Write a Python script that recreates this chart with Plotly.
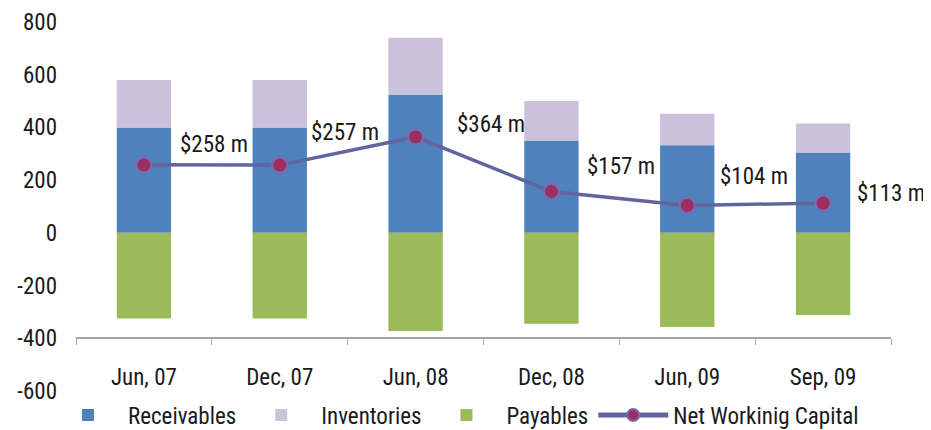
import plotly.graph_objects as go

categories = ["Jun, 07", "Dec, 07", "Jun, 08", "Dec, 08", "Jun, 09", "Sep, 09"]
receivables = [400, 400, 525, 350, 332, 305]
inventories = [180, 180, 215, 150, 120, 110]
payables = [-325, -325, -372, -345, -357, -312]
net_working_capital = [258, 257, 364, 157, 104, 113]
nwc_labels = ["$258 m", "$257 m", "$364 m", "$157 m", "$104 m", "$113 m"]
y_ticks = [-600, -400, -200, 0, 200, 400, 600, 800]
y_tick_labels = ["-600", "-400", "-200", "0", "200", "400", "600", "800"]

FONT = "Roboto Condensed, DejaVu Sans Condensed, Liberation Sans Narrow, sans-serif"
TXT = "#1a1a1a"

# the page adds an 8px body margin, so the figure is 8px smaller than the window
W, H = 923, 422

fig = go.Figure()
fig.add_trace(go.Bar(x=categories, y=receivables, name="Receivables",
                     marker=dict(color="#4F81BD", line=dict(width=0))))
fig.add_trace(go.Bar(x=categories, y=inventories, name="Inventories",
                     marker=dict(color="#CCC1DA", line=dict(width=0))))
fig.add_trace(go.Bar(x=categories, y=payables, name="Payables",
                     marker=dict(color="#9BBB59", line=dict(width=0))))
fig.add_trace(go.Scatter(x=categories, y=net_working_capital, name="Net Workinig Capital",
                         mode="lines+markers",
                         line=dict(color="#6264A0", width=3.5),
                         marker=dict(color="#9B2F62", size=15,
                                     line=dict(color="#7D6AAE", width=2))))

label_xshift = [70, 65, 75, 70, 67, 68]
label_yshift = [20, 33, 12, 25, 29, 10]
for c, v, t, xs, ys in zip(categories, net_working_capital, nwc_labels, label_xshift, label_yshift):
    fig.add_annotation(x=c, y=v, text=t, showarrow=False, xshift=xs, yshift=ys,
                       font=dict(family=FONT, size=23, color=TXT))

fig.update_layout(
    width=W, height=H,
    barmode="relative",
    bargap=0.6,
    plot_bgcolor="white", paper_bgcolor="white",
    margin=dict(l=68, r=40, t=14, b=39, autoexpand=False),
    font=dict(family=FONT, size=22, color=TXT),
    showlegend=True,
    legend=dict(orientation="h", xref="container", yref="container",
                x=40 / W, xanchor="left", y=15 / H, yanchor="middle",
                font=dict(family=FONT, size=23, color=TXT),
                traceorder="normal", itemwidth=70, itemsizing="constant",
                bgcolor="rgba(0,0,0,0)"),
    xaxis=dict(anchor="free", position=(-400 - (-600)) / 1400,
               range=[-0.5, len(categories) - 0.5],
               showline=True, linecolor="#A6A6A6", linewidth=1.5,
               ticks="outside", tickson="boundaries", ticklen=6, tickcolor="#A6A6A6",
               ticklabelstandoff=18, showgrid=False, automargin=False,
               tickfont=dict(family=FONT, size=23, color=TXT)),
    yaxis=dict(range=[-600, 800], tickvals=y_ticks, ticktext=y_tick_labels,
               showgrid=False, zeroline=False, automargin=False,
               showline=False, ticks="", ticklabelstandoff=18,
               tickfont=dict(family=FONT, size=23, color=TXT)),
)

fig.write_html("out.html")
